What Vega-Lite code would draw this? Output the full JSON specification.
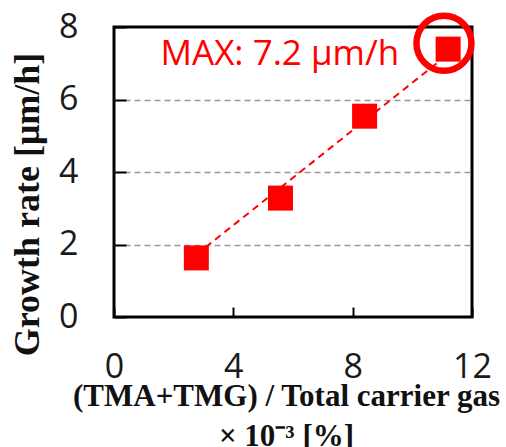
{
  "$schema": "https://vega.github.io/schema/vega-lite/v6.json",
  "width": 358,
  "height": 290,
  "autosize": {"type": "none"},
  "padding": {"left": 114, "top": 27, "right": 34, "bottom": 130},
  "background": "white",
  "config": {"view": {"stroke": "black", "strokeWidth": 3}},
  "datasets": {
    "points": [
      {"x": 2.76, "y": 1.63},
      {"x": 5.58, "y": 3.28},
      {"x": 8.40, "y": 5.54},
      {"x": 11.2, "y": 7.39}
    ],
    "trend": [
      {"x": 2.76, "y": 1.72},
      {"x": 11.2, "y": 7.25}
    ],
    "ring": [
      {"x": 11.06, "y": 7.55}
    ],
    "note": [
      {"x": 1.56, "y": 6.95, "label": "MAX: 7.2 μm/h"}
    ]
  },
  "encoding": {
    "x": {
      "field": "x",
      "type": "quantitative",
      "scale": {"domain": [0, 12], "nice": false, "zero": false},
      "axis": {
        "values": [0, 4, 8, 12],
        "domain": false,
        "grid": false,
        "ticks": true,
        "tickSize": -10,
        "tickWidth": 2,
        "tickColor": "black",
        "labelPadding": 43,
        "labelFont": "Open Sans",
        "labelFontSize": 34,
        "labelColor": "#1a1a1a",
        "labelFlush": false,
        "labelOverlap": false,
        "title": ["(TMA+TMG) / Total carrier gas", "× 10⁻³ [%]"],
        "titleFont": "Liberation Serif",
        "titleFontWeight": "bold",
        "titleFontSize": 31,
        "titleColor": "#111111",
        "titleX": 172,
        "titleY": 88,
        "titleAlign": "center",
        "titleBaseline": "alphabetic",
        "titleLineHeight": 40
      }
    },
    "y": {
      "field": "y",
      "type": "quantitative",
      "scale": {"domain": [0, 8], "nice": false, "zero": false},
      "axis": {
        "values": [0, 2, 4, 6, 8],
        "domain": false,
        "grid": true,
        "gridColor": "#999999",
        "gridDash": [6, 4],
        "gridWidth": 1.5,
        "gridOpacity": {"condition": {"test": "datum.value === 0 || datum.value === 8", "value": 0}, "value": 1},
        "ticks": true,
        "tickSize": -12,
        "tickWidth": 2,
        "tickColor": "black",
        "labelPadding": 48,
        "labelFont": "Open Sans",
        "labelFontSize": 34,
        "labelColor": "#1a1a1a",
        "labelFlush": false,
        "labelOverlap": false,
        "labelBaseline": "middle",
        "title": "Growth rate [μm/h]",
        "titleFont": "Liberation Serif",
        "titleFontWeight": "bold",
        "titleFontSize": 36,
        "titleColor": "#111111",
        "titleAngle": -90,
        "titleX": -76,
        "titleY": 177,
        "titleAlign": "center",
        "titleBaseline": "alphabetic"
      }
    }
  },
  "layer": [
    {
      "data": {"name": "trend"},
      "mark": {"type": "line", "color": "#ff0000", "strokeWidth": 2, "strokeDash": [7, 5]}
    },
    {
      "data": {"name": "points"},
      "mark": {"type": "square", "color": "#ff0000", "size": 625, "opacity": 1}
    },
    {
      "data": {"name": "ring"},
      "mark": {"type": "point", "shape": "circle", "filled": false, "stroke": "#ff0000", "strokeWidth": 6.5, "size": 3025, "opacity": 1}
    },
    {
      "data": {"name": "note"},
      "mark": {"type": "text", "font": "Open Sans", "fontSize": 35, "color": "#ff0000", "align": "left", "baseline": "alphabetic"},
      "encoding": {
        "text": {"field": "label", "type": "nominal"}
      }
    }
  ]
}
